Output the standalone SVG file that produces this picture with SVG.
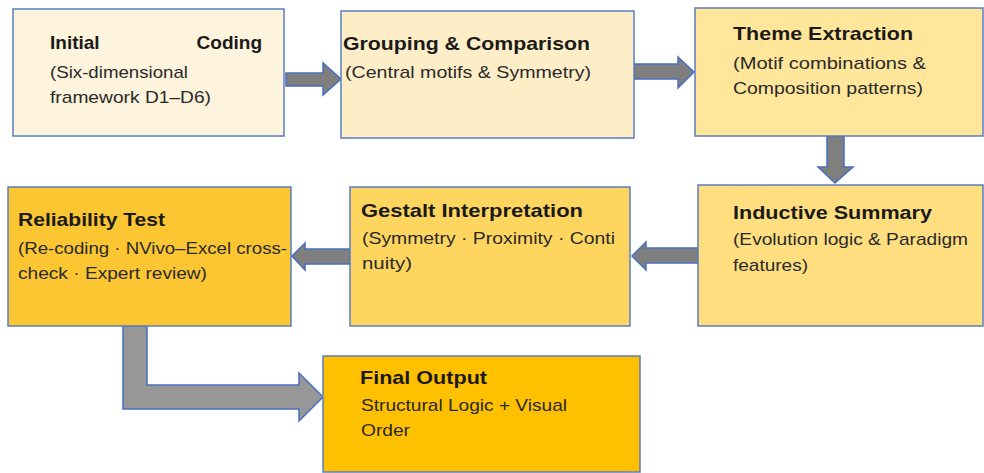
<svg xmlns="http://www.w3.org/2000/svg" width="984" height="473" viewBox="0 0 984 473">
<style>
.box{stroke:#5A7DC0;stroke-width:1.5}
.arr{fill:#7F7F7F;stroke:#4A6FBF;stroke-width:1.5;stroke-linejoin:miter}
.arr2{fill:#979797;stroke:#4A6FBF;stroke-width:1.5;stroke-linejoin:miter}
.t{font-family:"Liberation Sans",Arial,sans-serif;font-weight:bold;font-size:19px;fill:#1a1a1a}
.s{font-family:"Liberation Sans",Arial,sans-serif;font-size:17px;fill:#2a2a2a}
</style>
<rect width="984" height="473" fill="#ffffff"/>
<g id="connectors">
<polygon class="arr" points="286,73 323,73 323,63 341,79 323,95 323,86 286,86"/>
<polygon class="arr" points="634,64 678,64 678,57 694,72 678,88 678,79 634,79"/>
<polygon class="arr" points="827,136 844,136 844,167 853,167 835,183 818,167 827,167"/>
<polygon class="arr" points="698,248 646,248 646,242 632,256 646,270 646,263 698,263"/>
<polygon class="arr" points="350,249 305,249 305,243 292,256 305,270 305,264 350,264"/>
<polygon class="arr2" points="123,326 147,326 147,385 299,385 299,373 323,397 299,421 299,409 123,409"/>
</g>
<g id="initial-coding">
<rect class="box" x="13" y="9" width="271" height="127" fill="#FEF3DC"/>
<text class="t" x="50" y="49">Initial</text>
<text class="t" x="262" y="49" text-anchor="end">Coding</text>
<text class="s" x="50" y="78" textLength="138" lengthAdjust="spacingAndGlyphs">(Six-dimensional</text>
<text class="s" x="50" y="103" textLength="161" lengthAdjust="spacingAndGlyphs">framework D1–D6)</text>
</g>
<g id="grouping-comparison">
<rect class="box" x="341" y="11" width="293" height="127" fill="#FEEEC8"/>
<text class="t" x="343" y="50" textLength="247" lengthAdjust="spacingAndGlyphs">Grouping &amp; Comparison</text>
<text class="s" x="345" y="78" textLength="246" lengthAdjust="spacingAndGlyphs">(Central motifs &amp; Symmetry)</text>
</g>
<g id="theme-extraction">
<rect class="box" x="695" y="8" width="288" height="128" fill="#FFE69B"/>
<text class="t" x="733" y="40" textLength="180" lengthAdjust="spacingAndGlyphs">Theme Extraction</text>
<text class="s" x="733" y="69" textLength="193" lengthAdjust="spacingAndGlyphs">(Motif combinations &amp;</text>
<text class="s" x="733" y="94" textLength="190" lengthAdjust="spacingAndGlyphs">Composition patterns)</text>
</g>
<g id="inductive-summary">
<rect class="box" x="698" y="185" width="285" height="141" fill="#FFDE80"/>
<text class="t" x="733" y="219" textLength="199" lengthAdjust="spacingAndGlyphs">Inductive Summary</text>
<text class="s" x="733" y="245" textLength="235" lengthAdjust="spacingAndGlyphs">(Evolution logic &amp; Paradigm</text>
<text class="s" x="733" y="271" textLength="75" lengthAdjust="spacingAndGlyphs">features)</text>
</g>
<g id="gestalt-interpretation">
<rect class="box" x="350" y="187" width="280" height="139" fill="#FED55F"/>
<text class="t" x="361" y="217" textLength="222" lengthAdjust="spacingAndGlyphs">Gestalt Interpretation</text>
<text class="s" x="362" y="244" textLength="253" lengthAdjust="spacingAndGlyphs">(Symmetry · Proximity · Conti</text>
<text class="s" x="362" y="269" textLength="50" lengthAdjust="spacingAndGlyphs">nuity)</text>
</g>
<g id="reliability-test">
<rect class="box" x="8" y="187" width="283" height="139" fill="#FBC631"/>
<text class="t" x="18" y="226" textLength="147" lengthAdjust="spacingAndGlyphs">Reliability Test</text>
<text class="s" x="18" y="254" textLength="269" lengthAdjust="spacingAndGlyphs">(Re-coding · NVivo–Excel cross-</text>
<text class="s" x="18" y="279" textLength="189" lengthAdjust="spacingAndGlyphs">check · Expert review)</text>
</g>
<g id="final-output">
<rect class="box" x="323" y="356" width="317" height="116" fill="#FFC000"/>
<text class="t" x="360" y="384" textLength="127" lengthAdjust="spacingAndGlyphs">Final Output</text>
<text class="s" x="361" y="411" textLength="206" lengthAdjust="spacingAndGlyphs">Structural Logic + Visual</text>
<text class="s" x="361" y="436" textLength="49" lengthAdjust="spacingAndGlyphs">Order</text>
</g>
</svg>
